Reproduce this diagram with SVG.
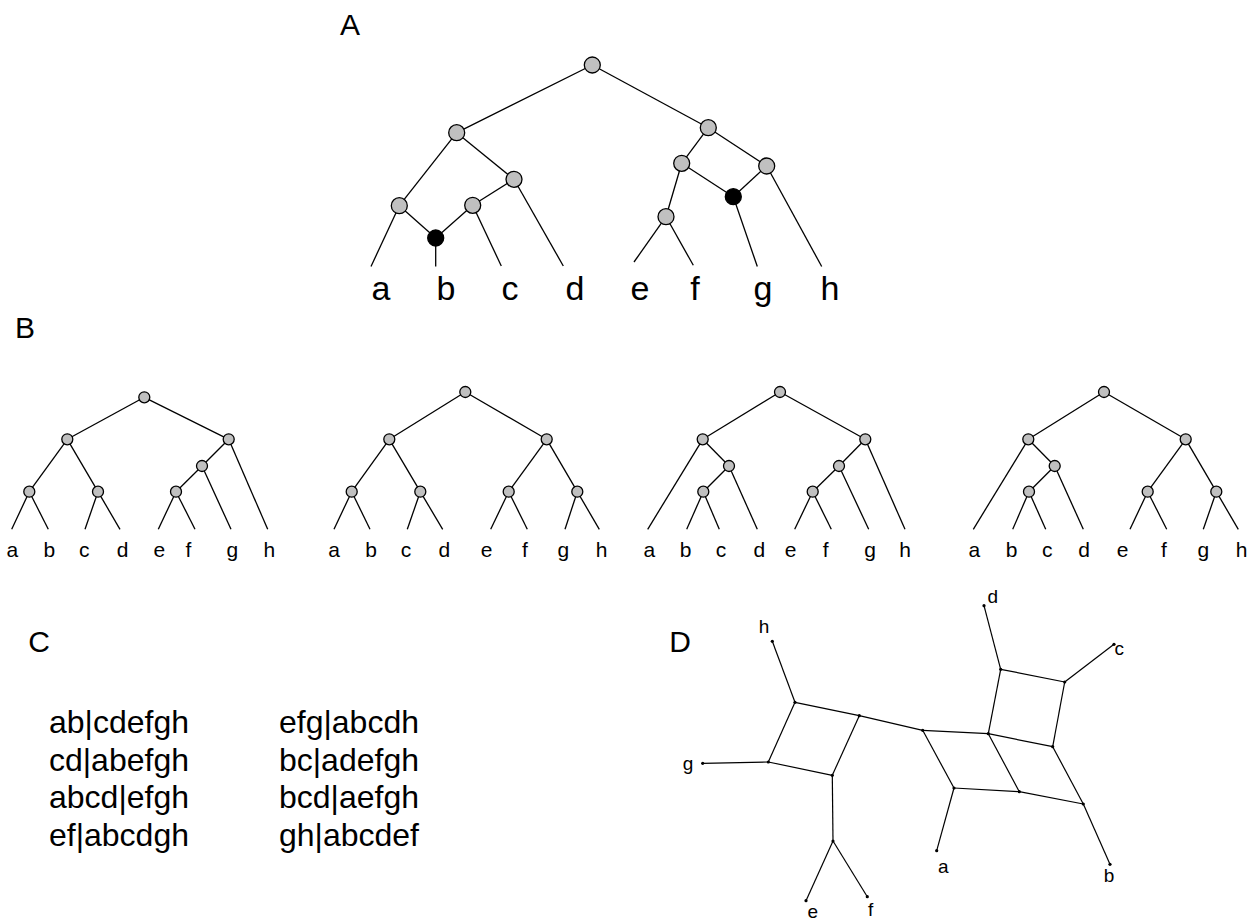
<svg xmlns="http://www.w3.org/2000/svg" width="1250" height="920" viewBox="0 0 1250 920">
<style>
text{font-family:"Liberation Sans",Arial,sans-serif;fill:#000}
.e line{stroke:#000;stroke-width:1.3;fill:none}
.ga{fill:#c0c0c0;stroke:#000;stroke-width:1.3}
.bk{fill:#000;stroke:#000;stroke-width:1.3}
.la{font-size:34px;text-anchor:middle}
.lb{font-size:21px;text-anchor:middle}
.ld{font-size:19px;text-anchor:middle}
.tt{font-size:30px}
.cs{font-size:32px}
.d line{stroke:#000;stroke-width:1.2}
.dot{fill:#000}
</style>
<rect width="1250" height="920" fill="#fff"/>
<text class="tt" x="350" y="35" text-anchor="middle">A</text>
<text class="tt" x="25" y="338" text-anchor="middle">B</text>
<text class="tt" x="39" y="652" text-anchor="middle">C</text>
<text class="tt" x="680" y="652" text-anchor="middle">D</text>

<!-- Part A -->
<g id="treeA-edges" class="e">
<line x1="592.3" y1="65" x2="456.7" y2="132.7"/>
<line x1="592.3" y1="65" x2="708.3" y2="127.7"/>
<line x1="456.7" y1="132.7" x2="399.3" y2="205.7"/>
<line x1="456.7" y1="132.7" x2="514" y2="179.3"/>
<line x1="399.3" y1="205.7" x2="371" y2="266.5"/>
<line x1="399.3" y1="205.7" x2="435.7" y2="238"/>
<line x1="435.7" y1="238" x2="435.7" y2="266.5"/>
<line x1="514" y1="179.3" x2="472.7" y2="205.3"/>
<line x1="472.7" y1="205.3" x2="435.7" y2="238"/>
<line x1="472.7" y1="205.3" x2="501.3" y2="266"/>
<line x1="514" y1="179.3" x2="563.3" y2="266"/>
<line x1="708.3" y1="127.7" x2="681.7" y2="163.3"/>
<line x1="708.3" y1="127.7" x2="766.7" y2="166"/>
<line x1="681.7" y1="163.3" x2="666" y2="216.7"/>
<line x1="681.7" y1="163.3" x2="733.3" y2="196.7"/>
<line x1="766.7" y1="166" x2="733.3" y2="196.7"/>
<line x1="766.7" y1="166" x2="821.7" y2="266.5"/>
<line x1="733.3" y1="196.7" x2="757.3" y2="266.5"/>
<line x1="666" y1="216.7" x2="634" y2="262"/>
<line x1="666" y1="216.7" x2="693.3" y2="265.3"/>
</g>
<g id="treeA-nodes">
<circle class="ga" cx="592.3" cy="65" r="8"/>
<circle class="ga" cx="456.7" cy="132.7" r="8"/>
<circle class="ga" cx="708.3" cy="127.7" r="8"/>
<circle class="ga" cx="399.3" cy="205.7" r="8"/>
<circle class="ga" cx="514" cy="179.3" r="8"/>
<circle class="ga" cx="472.7" cy="205.3" r="8"/>
<circle class="bk" cx="435.7" cy="238" r="8"/>
<circle class="ga" cx="681.7" cy="163.3" r="8"/>
<circle class="ga" cx="766.7" cy="166" r="8"/>
<circle class="bk" cx="733.3" cy="196.7" r="8"/>
<circle class="ga" cx="666" cy="216.7" r="8"/>
</g>
<g id="treeA-labels" class="la">
<text x="381" y="300">a</text><text x="446" y="300">b</text><text x="510" y="300">c</text><text x="575" y="300">d</text>
<text x="640" y="300">e</text><text x="695" y="300">f</text><text x="763" y="300">g</text><text x="830" y="300">h</text>
</g>

<!-- Part B tree 1 -->
<g id="treeB1">
<g class="e">
<line x1="144.3" y1="397.3" x2="67.3" y2="439.3"/>
<line x1="144.3" y1="397.3" x2="228.7" y2="439.3"/>
<line x1="67.3" y1="439.3" x2="29.3" y2="491.7"/>
<line x1="67.3" y1="439.3" x2="98" y2="491.7"/>
<line x1="29.3" y1="491.7" x2="11.7" y2="529.3"/>
<line x1="29.3" y1="491.7" x2="48.3" y2="529.3"/>
<line x1="98" y1="491.7" x2="85" y2="529.3"/>
<line x1="98" y1="491.7" x2="120" y2="529.3"/>
<line x1="228.7" y1="439.3" x2="202" y2="466"/>
<line x1="228.7" y1="439.3" x2="267.7" y2="529.3"/>
<line x1="202" y1="466" x2="176" y2="491.7"/>
<line x1="202" y1="466" x2="231" y2="529.3"/>
<line x1="176" y1="491.7" x2="158.3" y2="529.3"/>
<line x1="176" y1="491.7" x2="195" y2="529.3"/>
</g>
<circle class="ga" cx="144.3" cy="397.3" r="5.5"/>
<circle class="ga" cx="67.3" cy="439.3" r="5.5"/>
<circle class="ga" cx="228.7" cy="439.3" r="5.5"/>
<circle class="ga" cx="29.3" cy="491.7" r="5.5"/>
<circle class="ga" cx="98" cy="491.7" r="5.5"/>
<circle class="ga" cx="202" cy="466" r="5.5"/>
<circle class="ga" cx="176" cy="491.7" r="5.5"/>
<g class="lb">
<text x="12.3" y="557">a</text><text x="49.3" y="557">b</text><text x="84.3" y="557">c</text><text x="122.7" y="557">d</text>
<text x="159.3" y="557">e</text><text x="188.3" y="557">f</text><text x="232.3" y="557">g</text><text x="269.3" y="557">h</text>
</g>
</g>

<!-- Part B tree 2 -->
<g id="treeB2">
<g class="e">
<line x1="465.3" y1="392" x2="389.3" y2="439.3"/>
<line x1="465.3" y1="392" x2="546.7" y2="439.3"/>
<line x1="389.3" y1="439.3" x2="351.7" y2="491.7"/>
<line x1="389.3" y1="439.3" x2="420.3" y2="491.7"/>
<line x1="546.7" y1="439.3" x2="508.7" y2="491.7"/>
<line x1="546.7" y1="439.3" x2="577.3" y2="491.7"/>
<line x1="351.7" y1="491.7" x2="334" y2="529.3"/>
<line x1="351.7" y1="491.7" x2="370" y2="529.3"/>
<line x1="420.3" y1="491.7" x2="407.3" y2="529.3"/>
<line x1="420.3" y1="491.7" x2="442.7" y2="529.3"/>
<line x1="508.7" y1="491.7" x2="490.7" y2="529.3"/>
<line x1="508.7" y1="491.7" x2="527.3" y2="529.3"/>
<line x1="577.3" y1="491.7" x2="565" y2="529.3"/>
<line x1="577.3" y1="491.7" x2="599.3" y2="529.3"/>
</g>
<circle class="ga" cx="465.3" cy="392" r="5.5"/>
<circle class="ga" cx="389.3" cy="439.3" r="5.5"/>
<circle class="ga" cx="546.7" cy="439.3" r="5.5"/>
<circle class="ga" cx="351.7" cy="491.7" r="5.5"/>
<circle class="ga" cx="420.3" cy="491.7" r="5.5"/>
<circle class="ga" cx="508.7" cy="491.7" r="5.5"/>
<circle class="ga" cx="577.3" cy="491.7" r="5.5"/>
<g class="lb">
<text x="334" y="557">a</text><text x="371" y="557">b</text><text x="406" y="557">c</text><text x="444.3" y="557">d</text>
<text x="486.7" y="557">e</text><text x="525" y="557">f</text><text x="563.3" y="557">g</text><text x="601.7" y="557">h</text>
</g>
</g>

<!-- Part B tree 3 -->
<g id="treeB3">
<g class="e">
<line x1="780" y1="392" x2="702.7" y2="439.3"/>
<line x1="780" y1="392" x2="865.3" y2="439.3"/>
<line x1="702.7" y1="439.3" x2="647.7" y2="529.3"/>
<line x1="702.7" y1="439.3" x2="729" y2="466"/>
<line x1="729" y1="466" x2="703.3" y2="491.7"/>
<line x1="729" y1="466" x2="757.3" y2="529.3"/>
<line x1="703.3" y1="491.7" x2="686.7" y2="529.3"/>
<line x1="703.3" y1="491.7" x2="719.3" y2="529.3"/>
<line x1="865.3" y1="439.3" x2="839" y2="466"/>
<line x1="865.3" y1="439.3" x2="905" y2="529.3"/>
<line x1="839" y1="466" x2="812.7" y2="491.7"/>
<line x1="839" y1="466" x2="868.7" y2="529.3"/>
<line x1="812.7" y1="491.7" x2="794.7" y2="529.3"/>
<line x1="812.7" y1="491.7" x2="831.3" y2="529.3"/>
</g>
<circle class="ga" cx="780" cy="392" r="5.5"/>
<circle class="ga" cx="702.7" cy="439.3" r="5.5"/>
<circle class="ga" cx="865.3" cy="439.3" r="5.5"/>
<circle class="ga" cx="729" cy="466" r="5.5"/>
<circle class="ga" cx="703.3" cy="491.7" r="5.5"/>
<circle class="ga" cx="839" cy="466" r="5.5"/>
<circle class="ga" cx="812.7" cy="491.7" r="5.5"/>
<g class="lb">
<text x="649.3" y="557">a</text><text x="685.7" y="557">b</text><text x="721" y="557">c</text><text x="759.3" y="557">d</text>
<text x="790.7" y="557">e</text><text x="825.7" y="557">f</text><text x="870" y="557">g</text><text x="905" y="557">h</text>
</g>
</g>

<!-- Part B tree 4 -->
<g id="treeB4">
<g class="e">
<line x1="1104" y1="392" x2="1028.3" y2="439.3"/>
<line x1="1104" y1="392" x2="1185.7" y2="439.3"/>
<line x1="1028.3" y1="439.3" x2="973.3" y2="529.3"/>
<line x1="1028.3" y1="439.3" x2="1054.7" y2="466"/>
<line x1="1054.7" y1="466" x2="1029" y2="491.7"/>
<line x1="1054.7" y1="466" x2="1083.3" y2="529.3"/>
<line x1="1029" y1="491.7" x2="1012.7" y2="529.3"/>
<line x1="1029" y1="491.7" x2="1045.7" y2="529.3"/>
<line x1="1185.7" y1="439.3" x2="1147.7" y2="491.7"/>
<line x1="1185.7" y1="439.3" x2="1216.3" y2="491.7"/>
<line x1="1147.7" y1="491.7" x2="1130" y2="529.3"/>
<line x1="1147.7" y1="491.7" x2="1166.7" y2="529.3"/>
<line x1="1216.3" y1="491.7" x2="1203.3" y2="529.3"/>
<line x1="1216.3" y1="491.7" x2="1238.3" y2="529.3"/>
</g>
<circle class="ga" cx="1104" cy="392" r="5.5"/>
<circle class="ga" cx="1028.3" cy="439.3" r="5.5"/>
<circle class="ga" cx="1185.7" cy="439.3" r="5.5"/>
<circle class="ga" cx="1054.7" cy="466" r="5.5"/>
<circle class="ga" cx="1029" cy="491.7" r="5.5"/>
<circle class="ga" cx="1147.7" cy="491.7" r="5.5"/>
<circle class="ga" cx="1216.3" cy="491.7" r="5.5"/>
<g class="lb">
<text x="974.3" y="557">a</text><text x="1011.7" y="557">b</text><text x="1047.3" y="557">c</text><text x="1084" y="557">d</text>
<text x="1122.7" y="557">e</text><text x="1164" y="557">f</text><text x="1203.3" y="557">g</text><text x="1241.7" y="557">h</text>
</g>
</g>

<!-- Part C -->
<g id="splits" class="cs">
<text x="49" y="733">ab|cdefgh</text>
<text x="49" y="770.5">cd|abefgh</text>
<text x="49" y="808">abcd|efgh</text>
<text x="49" y="845.5">ef|abcdgh</text>
<text x="279" y="733">efg|abcdh</text>
<text x="279" y="770.5">bc|adefgh</text>
<text x="279" y="808">bcd|aefgh</text>
<text x="279" y="845.5">gh|abcdef</text>
</g>

<!-- Part D -->
<g id="network-edges" class="d">
<line x1="772.3" y1="641.3" x2="795" y2="702.3"/>
<line x1="795" y1="702.3" x2="859.3" y2="715.7"/>
<line x1="795" y1="702.3" x2="768.3" y2="762"/>
<line x1="768.3" y1="762" x2="832.3" y2="775.3"/>
<line x1="859.3" y1="715.7" x2="832.3" y2="775.3"/>
<line x1="768.3" y1="762" x2="702.7" y2="763.3"/>
<line x1="832.3" y1="775.3" x2="833" y2="841"/>
<line x1="833" y1="841" x2="806" y2="900.7"/>
<line x1="833" y1="841" x2="867.3" y2="896.7"/>
<line x1="859.3" y1="715.7" x2="922.7" y2="730.3"/>
<line x1="922.7" y1="730.3" x2="988.3" y2="733.7"/>
<line x1="922.7" y1="730.3" x2="954" y2="788"/>
<line x1="988.3" y1="733.7" x2="1000.7" y2="669.3"/>
<line x1="988.3" y1="733.7" x2="1052.7" y2="746.7"/>
<line x1="988.3" y1="733.7" x2="1019.3" y2="791.7"/>
<line x1="1000.7" y1="669.3" x2="1064.7" y2="682"/>
<line x1="1064.7" y1="682" x2="1052.7" y2="746.7"/>
<line x1="1000.7" y1="669.3" x2="984" y2="605.7"/>
<line x1="1064.7" y1="682" x2="1114" y2="644.3"/>
<line x1="954" y1="788" x2="1019.3" y2="791.7"/>
<line x1="1019.3" y1="791.7" x2="1083.3" y2="804"/>
<line x1="1052.7" y1="746.7" x2="1083.3" y2="804"/>
<line x1="954" y1="788" x2="936.7" y2="850.7"/>
<line x1="1083.3" y1="804" x2="1110" y2="864.3"/>
</g>
<g id="network-nodes" class="dot">
<circle cx="772.3" cy="641.3" r="1.6"/><circle cx="795" cy="702.3" r="1.6"/><circle cx="859.3" cy="715.7" r="1.6"/>
<circle cx="768.3" cy="762" r="1.6"/><circle cx="832.3" cy="775.3" r="1.6"/><circle cx="702.7" cy="763.3" r="1.6"/>
<circle cx="833" cy="841" r="1.6"/><circle cx="806" cy="900.7" r="1.6"/><circle cx="867.3" cy="896.7" r="1.6"/>
<circle cx="922.7" cy="730.3" r="1.6"/><circle cx="988.3" cy="733.7" r="1.6"/><circle cx="1000.7" cy="669.3" r="1.6"/>
<circle cx="984" cy="605.7" r="1.6"/><circle cx="1064.7" cy="682" r="1.6"/><circle cx="1114" cy="644.3" r="1.6"/>
<circle cx="1052.7" cy="746.7" r="1.6"/><circle cx="954" cy="788" r="1.6"/><circle cx="1019.3" cy="791.7" r="1.6"/>
<circle cx="1083.3" cy="804" r="1.6"/><circle cx="936.7" cy="850.7" r="1.6"/><circle cx="1110" cy="864.3" r="1.6"/>
</g>
<g id="network-labels" class="ld">
<text x="764" y="633">h</text>
<text x="688" y="770">g</text>
<text x="992.7" y="603">d</text>
<text x="1119.3" y="655">c</text>
<text x="943.3" y="872.7">a</text>
<text x="1109" y="881.7">b</text>
<text x="812.7" y="918">e</text>
<text x="870.7" y="916">f</text>
</g>
</svg>
